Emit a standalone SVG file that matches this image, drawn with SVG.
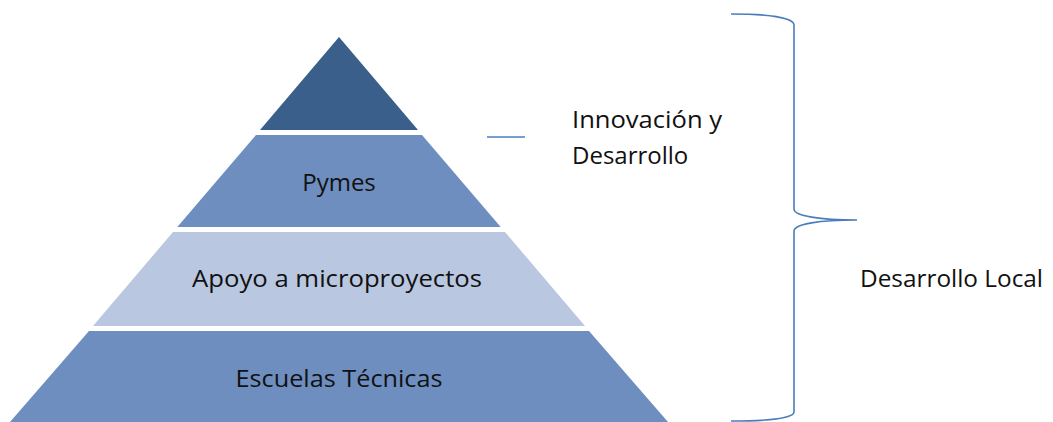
<svg xmlns="http://www.w3.org/2000/svg" width="1053" height="422" viewBox="0 0 1053 422">
<style>
.t{font-family:"Open Sans","Liberation Sans",sans-serif;font-size:24px;fill:#111}
.c{text-anchor:middle}
.br{fill:none;stroke:#4A7EBB;stroke-width:1.6}
</style>
<rect width="1053" height="422" fill="#fff"/>
<g id="top"><polygon points="339,37 418,130 260,130" fill="#3A5F8B"/></g>
<g id="pymes"><polygon points="256,135 422,135 500.7,227 177.3,227" fill="#6E8EC0"/><text class="t c" x="339" y="191">Pymes</text></g>
<g id="apoyo"><polygon points="173,232 505,232 585,326 93,326" fill="#B9C7E0"/><text class="t c" x="337" y="287" textLength="290" lengthAdjust="spacingAndGlyphs">Apoyo a microproyectos</text></g>
<g id="escuelas"><polygon points="89,331 589,331 668,422 10,422" fill="#6E8EC0"/><text class="t c" x="339" y="387" textLength="207" lengthAdjust="spacingAndGlyphs">Escuelas Técnicas</text></g>
<g id="connectors">
<line class="br" x1="487" y1="137" x2="525" y2="137"/>
<path class="br" d="M731,14 C770,14 794,18 794,25 L794,209 C794,216 820,220 857,220 C820,220 794,224 794,231 L794,412 C794,418 770,421 731,421"/>
</g>
<g id="label-innovacion"><text class="t" x="572" y="128" textLength="150" lengthAdjust="spacingAndGlyphs">Innovación y</text><text class="t" x="572" y="164">Desarrollo</text></g>
<g id="label-local"><text class="t" x="860" y="287" textLength="183" lengthAdjust="spacingAndGlyphs">Desarrollo Local</text></g>
</svg>
